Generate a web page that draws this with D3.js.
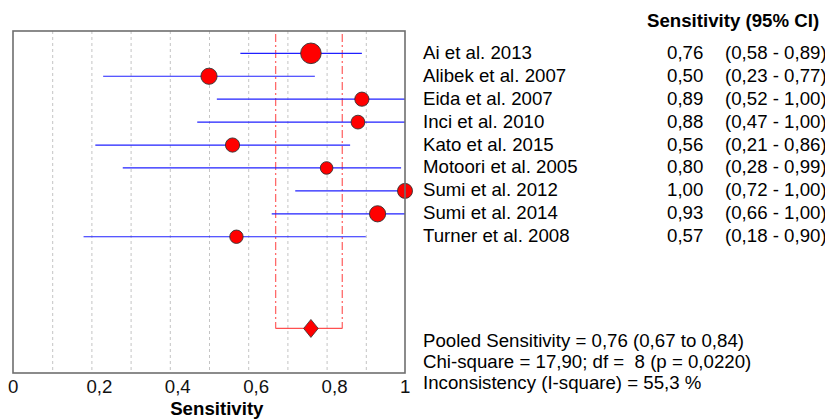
<!DOCTYPE html>
<html><head><meta charset="utf-8">
<script src="https://cdn.jsdelivr.net/npm/d3@7"></script>
<style>
html,body{margin:0;padding:0;background:#fff;}
svg{display:block;font-family:"Liberation Sans",Arial,sans-serif;}
</style></head>
<body><svg id="c" width="825" height="419"></svg>
<script>
const studies = ["Ai et al. 2013","Alibek et al. 2007","Eida et al. 2007","Inci et al. 2010","Kato et al. 2015","Motoori et al. 2005","Sumi et al. 2012","Sumi et al. 2014","Turner et al. 2008"];
const sens   = [0.76,0.50,0.89,0.88,0.56,0.80,1.00,0.93,0.57];
const lower  = [0.58,0.23,0.52,0.47,0.21,0.28,0.72,0.66,0.18];
const upper  = [0.89,0.77,1.00,1.00,0.86,0.99,1.00,1.00,0.90];
const weight = [25,14,9,8,9,5,11,14,7];
const pooled = {est:0.76, lo:0.67, hi:0.84};
const xTicks = [0,0.2,0.4,0.6,0.8,1];
const gridVals = [0.1,0.2,0.3,0.4,0.5,0.6,0.7,0.8,0.9];
const header = "Sensitivity (95% CI)";
const xTitle = "Sensitivity";
const summary = ["Pooled Sensitivity = 0,76 (0,67 to 0,84)","Chi-square = 17,90; df =  8 (p = 0,0220)","Inconsistency (I-square) = 55,3 %"];

const fmt = v => v.toFixed(2).replace(".", ",");
const svg = d3.select("#c");
const FS = 18.67;
const x = d3.scaleLinear().domain([0,1]).range([13,405]);
const y = d3.scaleLinear().domain([-1,14]).range([30.4,374.3]);
const r = d3.scaleLinear().domain([5,25]).range([6.3,10.3]);
const yTop = 31, yBot = 373;

// grid
svg.append("g").selectAll("line").data(gridVals).join("line")
  .attr("x1",d=>x(d)+0.5).attr("x2",d=>x(d)+0.5).attr("y1",yTop).attr("y2",yBot)
  .attr("stroke","#c4c4c4").attr("stroke-width",1).attr("stroke-dasharray","3,3");

// pooled CI dashed lines
const py = y(12);
svg.append("g").selectAll("line").data([pooled.lo,pooled.hi]).join("line")
  .attr("x1",d=>x(d)).attr("x2",d=>x(d)).attr("y1",yTop+3).attr("y2",py)
  .attr("stroke","#ff6a6a").attr("stroke-width",1.3).attr("stroke-dasharray","8,3,2,3");
svg.append("line").attr("x1",x(pooled.lo)).attr("x2",x(pooled.hi)).attr("y1",py).attr("y2",py)
  .attr("stroke","#ff5050").attr("stroke-width",1.2);
svg.append("path")
  .attr("d",`M${x(pooled.est)},${py-9}L${x(pooled.est)+7.3},${py}L${x(pooled.est)},${py+9}L${x(pooled.est)-7.3},${py}Z`)
  .attr("fill","#ff0000").attr("stroke","#333").attr("stroke-width",0.8);

// CI lines
const idx = d3.range(studies.length);
svg.append("g").selectAll("line").data(idx).join("line")
  .attr("x1",i=>x(lower[i])).attr("x2",i=>x(upper[i])).attr("y1",i=>y(i)).attr("y2",i=>y(i))
  .attr("stroke","#2020ff").attr("stroke-width",1.2);
svg.append("g").selectAll("circle").data(idx).join("circle")
  .attr("cx",i=>x(sens[i])).attr("cy",i=>y(i)).attr("r",i=>r(weight[i]))
  .attr("fill","#ff0000").attr("stroke","#333").attr("stroke-width",0.9);

// frame
svg.append("rect").attr("x",13).attr("y",yTop).attr("width",392).attr("height",yBot-yTop)
  .attr("fill","none").attr("stroke","#6e6e6e").attr("stroke-width",1.6);

// tick labels
svg.append("g").selectAll("text").data(xTicks).join("text")
  .attr("x",d=>x(d)-5).attr("y",393).attr("font-size",FS).attr("fill","#111")
  .text(d=>d===0?"0":d===1?"1":String(d).replace(".",","));
svg.append("text").attr("x",x(0.52)).attr("y",415).attr("text-anchor","middle")
  .attr("font-size",FS).attr("font-weight","bold").text(xTitle);

// right table
svg.append("text").attr("x",647).attr("y",26.5).attr("font-size",FS).attr("font-weight","bold").text(header);
const rows = svg.append("g").selectAll("g").data(idx).join("g");
rows.append("text").attr("x",423).attr("y",i=>y(i)+5.5).attr("font-size",FS).text(i=>studies[i]);
rows.append("text").attr("x",667).attr("y",i=>y(i)+5.5).attr("font-size",FS).text(i=>fmt(sens[i]));
rows.append("text").attr("x",725).attr("y",i=>y(i)+5.5).attr("font-size",FS)
  .text(i=>`(${fmt(lower[i])} - ${fmt(upper[i])})`);

svg.append("g").selectAll("text").data(summary).join("text")
  .attr("x",423).attr("y",(d,i)=>346.7+i*21).attr("font-size",FS).style("white-space","pre")
  .text(d=>d);
</script></body></html>
